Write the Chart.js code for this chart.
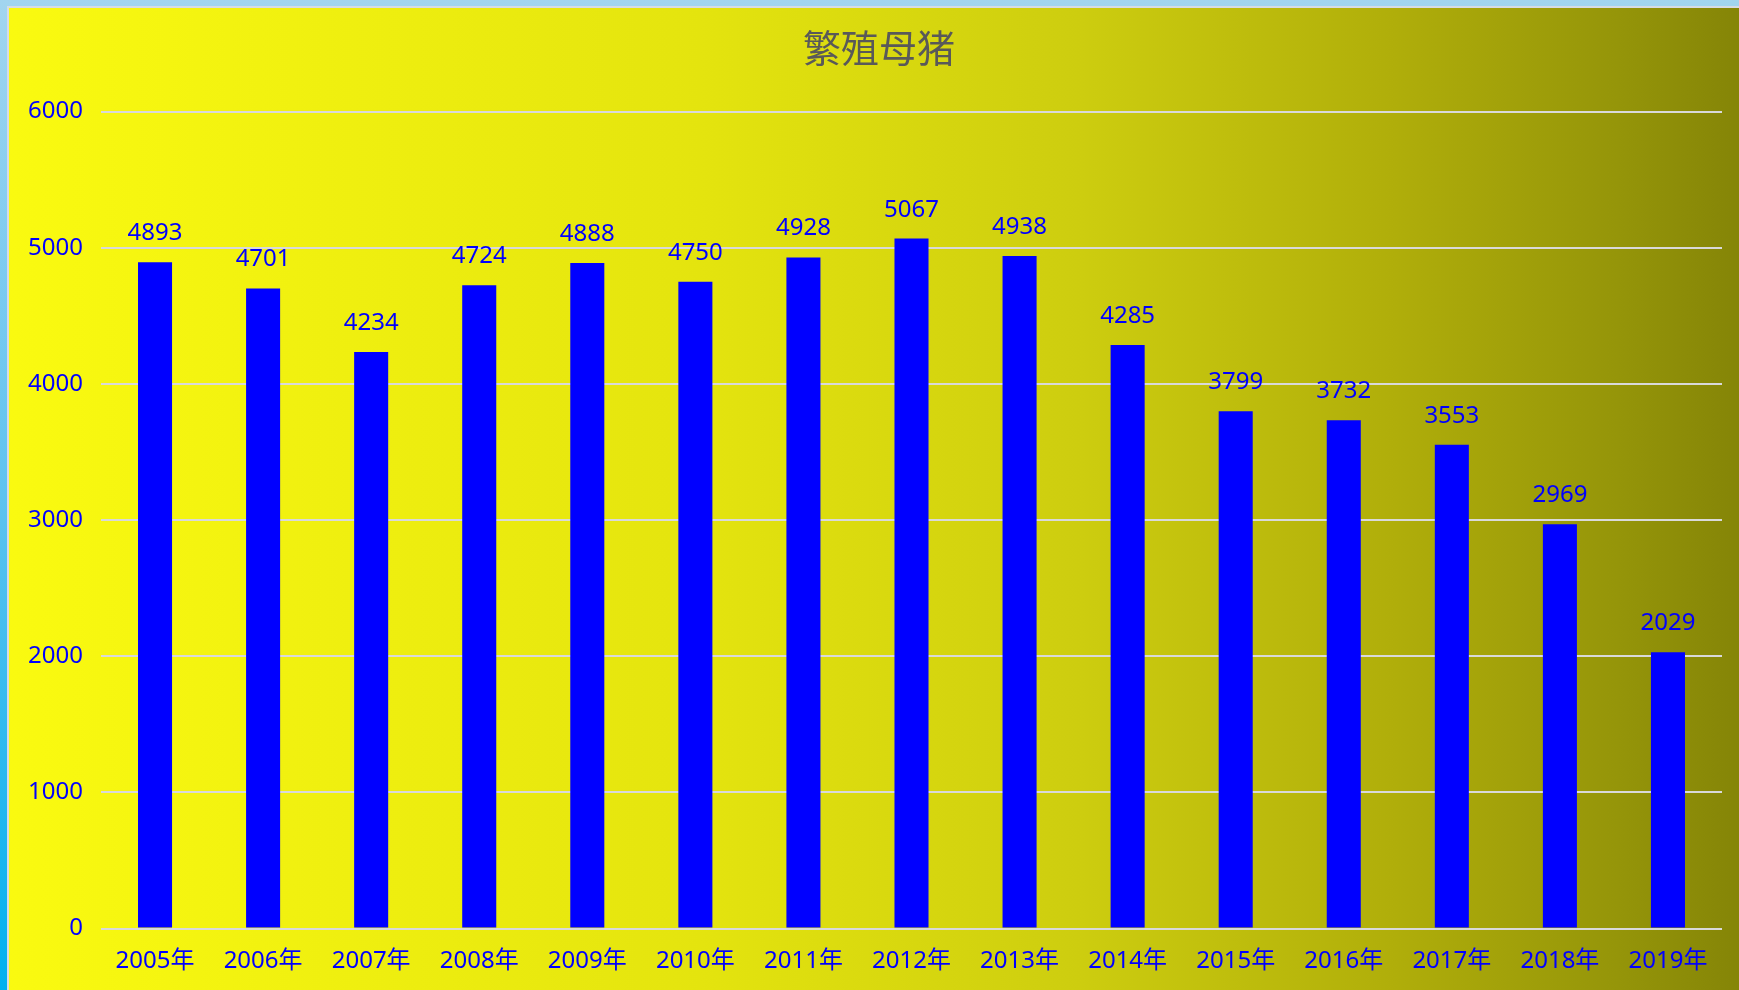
<!DOCTYPE html>
<html>
<head>
<meta charset="utf-8">
<script src="https://cdn.jsdelivr.net/npm/chart.js@4"></script>
<style>
  html, body { margin: 0; padding: 0; width: 1739px; height: 990px; overflow: hidden; }
  body { background: linear-gradient(to bottom, #A2D5EF 0%, #5EC3F0 50%, #00B0F0 100%); position: relative; }
  #frame { position: absolute; left: 7px; top: 6px; width: 1740px; height: 990px; border-left: 2px solid #D6DCE4; border-top: 2px solid #D6DCE4; }
  #wrap { position: absolute; left: 0; top: 0; width: 1730px; height: 982px; }
</style>
</head>
<body>
<div id="frame"><div id="wrap"><canvas id="c"></canvas></div></div>
<script>
const titleText = '繁殖母猪';
const categories = ['2005年','2006年','2007年','2008年','2009年','2010年','2011年','2012年','2013年','2014年','2015年','2016年','2017年','2018年','2019年'];
const values = [4893, 4701, 4234, 4724, 4888, 4750, 4928, 5067, 4938, 4285, 3799, 3732, 3553, 2969, 2029];
const yMin = 0, yMax = 6000, yStep = 1000;

const FONT = "'Noto Sans', 'Noto Sans CJK SC', sans-serif";
const BLUE = '#0000FF';

const bgPlugin = {
  id: 'bg',
  beforeDraw(chart) {
    const { ctx, width, height } = chart;
    const g = ctx.createLinearGradient(0, 0, width, 0);
    g.addColorStop(0.00, '#FAFA10');
    g.addColorStop(0.40, '#E4E40E');
    g.addColorStop(0.62, '#CDCD0F');
    g.addColorStop(0.80, '#B0AE0A');
    g.addColorStop(0.93, '#959509');
    g.addColorStop(1.00, '#858507');
    ctx.save();
    ctx.fillStyle = g;
    ctx.fillRect(0, 0, width, height);
    ctx.restore();
  },
  afterDraw(chart) {
    const { ctx } = chart;
    ctx.save();
    ctx.fillStyle = '#595959';
    ctx.font = "38px 'Noto Sans CJK SC', sans-serif";
    ctx.textAlign = 'center';
    ctx.textBaseline = 'middle';
    ctx.fillText(titleText, 870, 40);
    ctx.restore();
  }
};

const labelPlugin = {
  id: 'valueLabels',
  afterDatasetsDraw(chart) {
    const { ctx } = chart;
    const meta = chart.getDatasetMeta(0);
    ctx.save();
    ctx.fillStyle = BLUE;
    ctx.font = '24px ' + FONT;
    ctx.textAlign = 'center';
    ctx.textBaseline = 'alphabetic';
    meta.data.forEach((bar, i) => {
      ctx.fillText(String(chart.data.datasets[0].data[i]), bar.x, bar.y - 22);
    });
    ctx.restore();
  }
};

new Chart(document.getElementById('c'), {
  type: 'bar',
  data: {
    labels: categories,
    datasets: [{
      data: values,
      backgroundColor: BLUE,
      borderWidth: 0,
      barPercentage: 0.315,
      categoryPercentage: 1.0
    }]
  },
  options: {
    responsive: true,
    maintainAspectRatio: false,
    animation: false,
    devicePixelRatio: 1,
    layout: { padding: { top: 103.5, right: 17, bottom: 0, left: 0 } },
    plugins: {
      legend: { display: false },
      title: { display: false },
      tooltip: { enabled: false }
    },
    scales: {
      x: {
        grid: { display: false },
        border: { display: false },
        ticks: { color: BLUE, font: { family: FONT, size: 24 }, padding: 10, maxRotation: 0, autoSkip: false },
        afterFit(scale) { scale.height = 61.5; }
      },
      y: {
        min: yMin, max: yMax,
        ticks: { stepSize: yStep, color: BLUE, font: { family: FONT, size: 24 }, padding: 18,
                 callback: (v) => String(v) },
        grid: { color: '#D9D9D9', lineWidth: 2, drawTicks: false },
        border: { display: false },
        afterFit(scale) { scale.width = 92; }
      }
    }
  },
  plugins: [bgPlugin, labelPlugin]
});
</script>
</body>
</html>
